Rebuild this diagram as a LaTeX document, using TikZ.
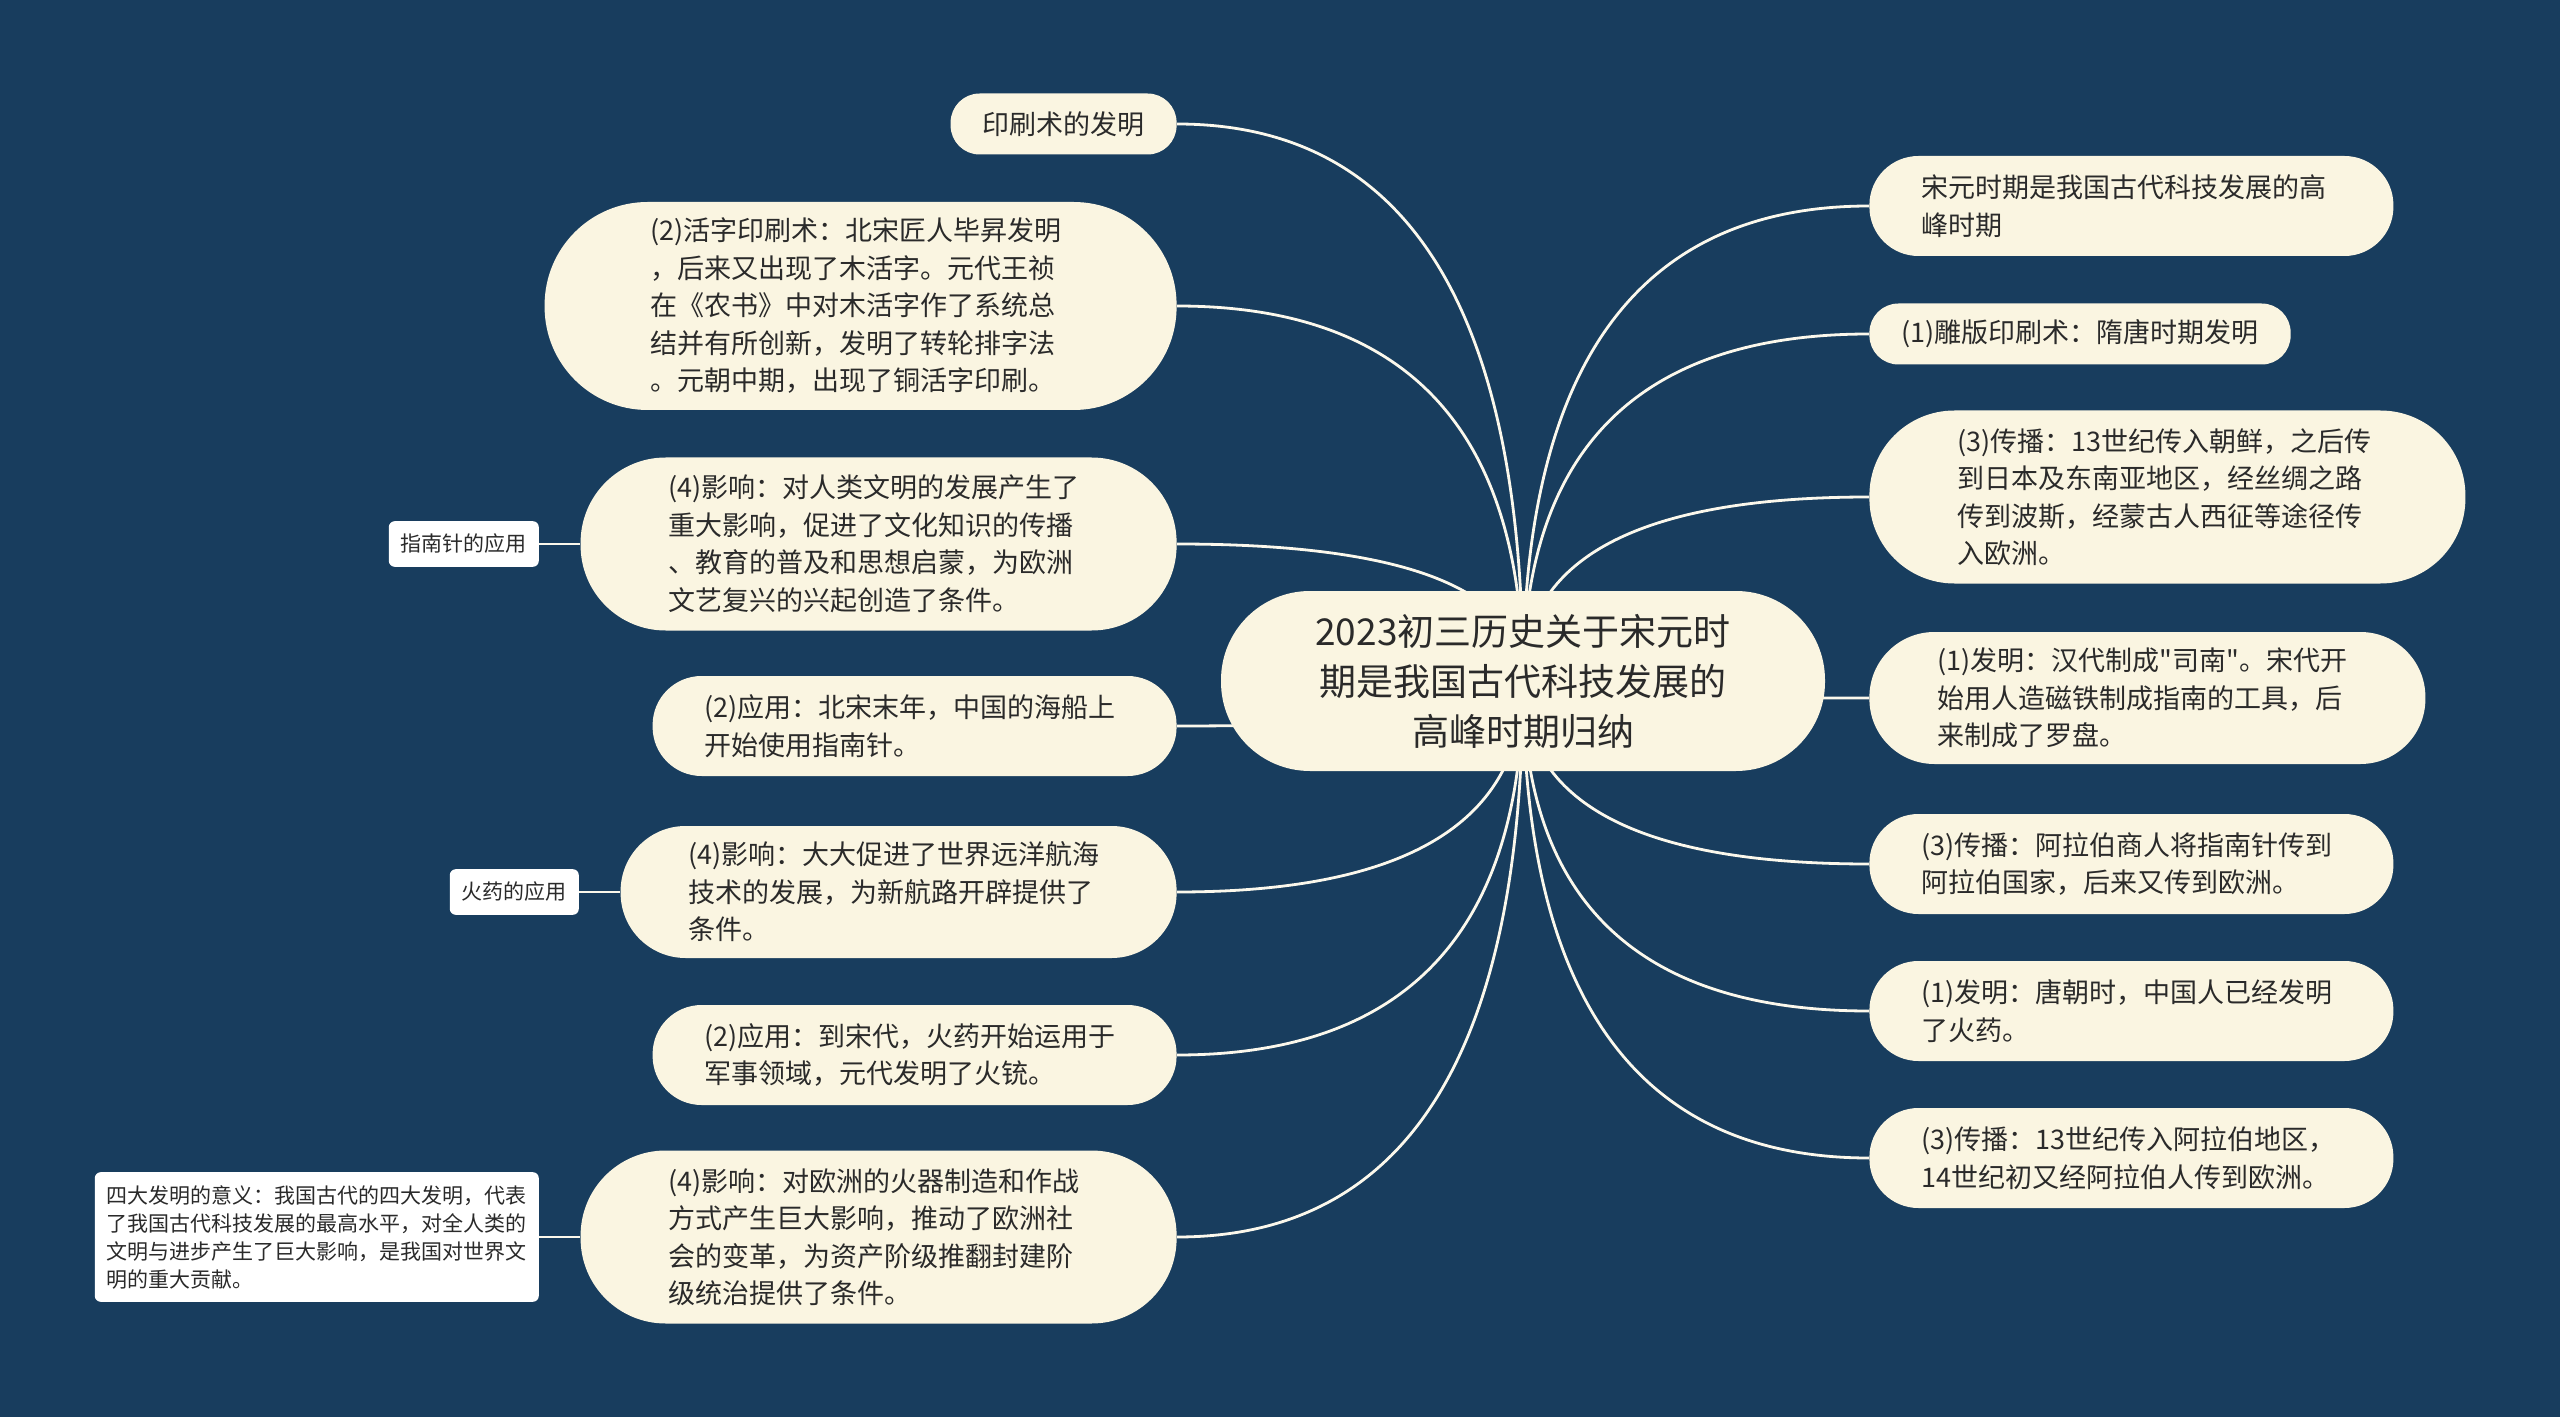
\documentclass[tikz,border=0pt]{standalone}
\usepackage{fontspec}
\setmainfont{Noto Sans CJK SC}[Ligatures=TeXOff]
\usetikzlibrary{calc,positioning}

\definecolor{mapbg}{HTML}{183D5E}
\definecolor{cream}{HTML}{FAF5E1}
\definecolor{ink}{HTML}{2A2A2A}
\definecolor{linkcol}{HTML}{FBF8EC}

\pgfdeclarelayer{back}
\pgfdeclarelayer{links}
\pgfsetlayers{back,links,main}

\begin{document}
\begin{tikzpicture}
 [
  x=0.5pt, y=-0.5pt,
  root/.style   = {rectangle, fill=cream, text=ink, rounded corners=44.5pt, minimum height=90pt,
                   inner xsep=46pt, inner ysep=0pt, text width=210pt, align=center,
                   font=\fontsize{18.5}{25}\selectfont},
  topic/.style  = {rectangle, fill=cream, text=ink, inner ysep=0pt,
                   font=\fontsize{13.5}{18.75}\selectfont},
  single/.style = {topic, inner xsep=16pt, minimum height=30.5pt, rounded corners=14.5pt},
  wide/.style   = {topic, text width=210pt, align=left},
  two/.style    = {wide, inner xsep=26pt, minimum height=50pt, rounded corners=24.5pt},
  three/.style  = {wide, inner xsep=34pt, minimum height=66pt, rounded corners=32.5pt},
  four/.style   = {wide, inner xsep=44pt, minimum height=86.5pt, rounded corners=42.5pt},
  five/.style   = {wide, inner xsep=53pt, minimum height=104pt, rounded corners=51.5pt},
  note/.style   = {fill=white, rounded corners=3pt, text=ink, inner xsep=6pt, inner ysep=6.5pt,
                   align=left, font=\fontsize{10.5}{14}\selectfont},
  link/.style   = {draw=linkcol, line width=1.4pt},
 ]
 \def\gap{20.5pt} % space between a note and its topic

 \begin{pgfonlayer}{back}
  \fill[mapbg] (0,0) rectangle (2560,1417);
 \end{pgfonlayer}
 \useasboundingbox (0,0) rectangle (2560,1417);

 \node[root] (root) at (1523,681) {2023初三历史关于宋元时\\期是我国古代科技发展的\\高峰时期归纳};

 % left branch
 \node[single, anchor=east] (l1) at (1177,124) {印刷术的发明};
 \node[five, anchor=east] (l2) at (1177,306) {(2)活字印刷术：北宋匠人毕昇发明\\，后来又出现了木活字。元代王祯\\在《农书》中对木活字作了系统总\\结并有所创新，发明了转轮排字法\\。元朝中期，出现了铜活字印刷。};
 \node[four, anchor=east] (l3) at (1177,544) {(4)影响：对人类文明的发展产生了\\重大影响，促进了文化知识的传播\\、教育的普及和思想启蒙，为欧洲\\文艺复兴的兴起创造了条件。};
 \node[two, anchor=east] (l4) at (1177,726) {(2)应用：北宋末年，中国的海船上\\开始使用指南针。};
 \node[three, anchor=east] (l5) at (1177,892) {(4)影响：大大促进了世界远洋航海\\技术的发展，为新航路开辟提供了\\条件。};
 \node[two, anchor=east] (l6) at (1177,1055) {(2)应用：到宋代，火药开始运用于\\军事领域，元代发明了火铳。};
 \node[four, anchor=east] (l7) at (1177,1237) {(4)影响：对欧洲的火器制造和作战\\方式产生巨大影响，推动了欧洲社\\会的变革，为资产阶级推翻封建阶\\级统治提供了条件。};

 % right branch
 \node[two, anchor=west] (r1) at (1869,206) {宋元时期是我国古代科技发展的高\\峰时期};
 \node[single, anchor=west] (r2) at (1869,334) {(1)雕版印刷术：隋唐时期发明};
 \node[four, anchor=west] (r3) at (1869,497) {(3)传播：13世纪传入朝鲜，之后传\\到日本及东南亚地区，经丝绸之路\\传到波斯，经蒙古人西征等途径传\\入欧洲。};
 \node[three, anchor=west] (r4) at (1869,698) {(1)发明：汉代制成"司南"。宋代开\\始用人造磁铁制成指南的工具，后\\来制成了罗盘。};
 \node[two, anchor=west] (r5) at (1869,864) {(3)传播：阿拉伯商人将指南针传到\\阿拉伯国家，后来又传到欧洲。};
 \node[two, anchor=west] (r6) at (1869,1011) {(1)发明：唐朝时，中国人已经发明\\了火药。};
 \node[two, anchor=west] (r7) at (1869,1158) {(3)传播：13世纪传入阿拉伯地区，\\14世纪初又经阿拉伯人传到欧洲。};

 % notes
 \node[note, left=\gap of l3] (compass) {指南针的应用};
 \node[note, left=\gap of l5] (powder) {火药的应用};
 \node[note, left=\gap of l7] (meaning) {四大发明的意义：我国古代的四大发明，代表\\了我国古代科技发展的最高水平，对全人类的\\文明与进步产生了巨大影响，是我国对世界文\\明的重大贡献。};

 \begin{pgfonlayer}{links}
  \foreach \c/\a in {l1/east,l2/east,l3/east,l4/east,l5/east,l6/east,l7/east,
                     r1/west,r2/west,r3/west,r4/west,r5/west,r6/west,r7/west}
   \draw[link] (root.center)
    .. controls ($(root.center)!2/3!(root.center |- \c.\a)$) and ($(\c.\a)!2/3!(root.center |- \c.\a)$)
    .. (\c.\a);
  \draw[link] (compass.east) -- (l3.west);
  \draw[link] (powder.east) -- (l5.west);
  \draw[link] (meaning.east) -- (l7.west);
 \end{pgfonlayer}
\end{tikzpicture}
\end{document}
